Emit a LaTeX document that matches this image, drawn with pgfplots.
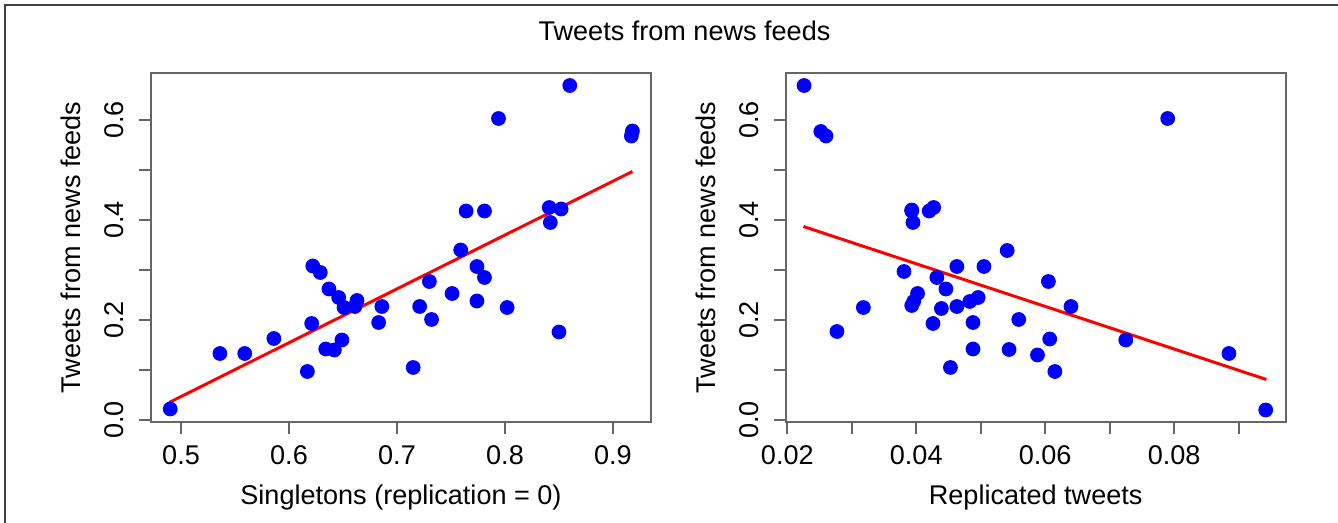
\documentclass[border=0pt]{standalone}
\usepackage{fontspec}
\setmainfont{Liberation Sans}
\usepackage{pgfplots}
\pgfplotsset{compat=1.18}

% 1 px of the reference = 0.01cm
\pgfplotsset{
  rplot/.style={
    scale only axis, width=5cm, height=3.49cm,
    axis line style={black!60, line width=0.6pt},
    every tick/.style={black!60, line width=0.6pt},
    tick align=outside, major tick length=0.12cm,
    xtick pos=bottom, ytick pos=left,
    scaled x ticks=false, scaled y ticks=false,
    ymin=-0.004, ymax=0.694,
    ytick={0,0.1,0.2,0.3,0.4,0.5,0.6},
    yticklabels={0.0,,0.2,,0.4,,0.6},
    % rotated frame: yshift moves the label to the left on the page
    yticklabel style={rotate=90, anchor=center, yshift=0.25cm},
    xticklabel style={anchor=center, yshift=-0.21cm},
    ylabel={Tweets from news feeds},
    y label style={at={(axis description cs:-0.16,0.5)}, anchor=center, rotate=0},
    x label style={at={(axis description cs:0.5,-0.215)}, anchor=center},
    font=\fontsize{7.7}{9.2}\selectfont,
  },
  pts/.style={only marks, mark=*, mark size=1.9pt, draw=blue, fill=blue},
  fit/.style={red, line width=0.85pt, no marks},
}

\begin{document}
\begin{tikzpicture}
\path[use as bounding box] (0,0) rectangle (13.38,5.23);
\draw[black!75, line width=0.6pt] (0.05,0) -- (0.05,5.18) -- (13.38,5.18);
\node[font=\fontsize{7.7}{9.2}\selectfont] at (6.845,4.92) {Tweets from news feeds};

\begin{axis}[rplot, at={(1.51cm,1.01cm)}, anchor=south west,
  xmin=0.4722, xmax=0.9352,
  xtick={0.5,0.6,0.7,0.8,0.9},
  xticklabels={0.5,0.6,0.7,0.8,0.9},
  xlabel={Singletons (replication = 0)}]
\addplot[pts] table {
0.490 0.022
0.536 0.133
0.559 0.133
0.586 0.163
0.617 0.097
0.621 0.193
0.622 0.308
0.629 0.295
0.637 0.262
0.646 0.245
0.651 0.225
0.661 0.227
0.663 0.239
0.634 0.142
0.642 0.140
0.649 0.160
0.683 0.195
0.686 0.227
0.715 0.105
0.721 0.227
0.730 0.277
0.732 0.201
0.751 0.253
0.759 0.340
0.764 0.418
0.774 0.307
0.774 0.238
0.781 0.418
0.781 0.285
0.794 0.603
0.802 0.225
0.841 0.425
0.842 0.395
0.850 0.176
0.852 0.422
0.860 0.669
0.917 0.568
0.918 0.578
};
\addplot[fit] coordinates {(0.489,0.035) (0.918,0.497)};
\end{axis}

\begin{axis}[rplot, at={(7.857cm,1.01cm)}, anchor=south west,
  xmin=0.01975, xmax=0.0973,
  xtick={0.02,0.03,0.04,0.05,0.06,0.07,0.08,0.09},
  xticklabels={0.02,,0.04,,0.06,,0.08,},
  xlabel={Replicated tweets}]
\addplot[pts] table {
0.0226 0.669
0.0252 0.577
0.0260 0.568
0.0393 0.420
0.0393 0.418
0.0395 0.395
0.0420 0.418
0.0427 0.425
0.0541 0.339
0.0790 0.603
0.0463 0.307
0.0505 0.307
0.0381 0.297
0.0432 0.285
0.0446 0.262
0.0605 0.277
0.0402 0.253
0.0393 0.229
0.0396 0.237
0.0318 0.225
0.0439 0.223
0.0463 0.227
0.0483 0.237
0.0496 0.245
0.0426 0.193
0.0488 0.195
0.0559 0.201
0.0277 0.177
0.0607 0.162
0.0488 0.142
0.0544 0.141
0.0588 0.130
0.0453 0.105
0.0615 0.097
0.0640 0.227
0.0725 0.160
0.0885 0.133
0.0942 0.020
};
\addplot[fit] coordinates {(0.0225,0.387) (0.0943,0.081)};
\end{axis}
\end{tikzpicture}
\end{document}
